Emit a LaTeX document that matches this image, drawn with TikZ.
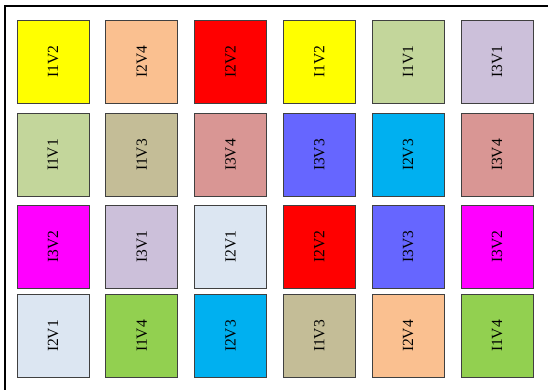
\documentclass[tikz,border=0pt]{standalone}
\usepackage{fontspec}
\setmainfont{Liberation Serif}
\usetikzlibrary{positioning}

\definecolor{tileyellow}{HTML}{FFFF00}
\definecolor{tilepeach}{HTML}{FAC090}
\definecolor{tilered}{HTML}{FF0000}
\definecolor{tilegreenlt}{HTML}{C3D69B}
\definecolor{tilelavender}{HTML}{CCC0DA}
\definecolor{tiletan}{HTML}{C4BD97}
\definecolor{tilerose}{HTML}{D99694}
\definecolor{tileviolet}{HTML}{6666FF}
\definecolor{tilesky}{HTML}{00B0F0}
\definecolor{tilemagenta}{HTML}{FF00FF}
\definecolor{tilebluelt}{HTML}{DCE6F2}
\definecolor{tilegreen}{HTML}{92D050}

\begin{document}
\begin{tikzpicture}[
			x=1pt, y=-1pt,
			% Style for the coloured tiles
			tile/.style={
				rectangle,
				draw=black!75,
				line width=0.8pt,
				rotate=90,
				minimum width=83pt,
				minimum height=72pt,
				inner sep=0pt,
				font=\fontsize{15.5}{18}\selectfont
			},
			% Style for the frame
			frame/.style={
				line width=2pt,
				black
			}
			]
			
			\useasboundingbox (0,0) rectangle (548,390);
			
			% --- FRAME ---
			\draw[frame] (5,390) -- (5,6) -- (548,6);
			
			% --- TILES (row by row) ---
			\foreach \lbl/\col [count=\i from 0] in {
					I1V2/tileyellow, I2V4/tilepeach, I2V2/tilered, I1V2/tileyellow, I1V1/tilegreenlt, I3V1/tilelavender,
					I1V1/tilegreenlt, I1V3/tiletan, I3V4/tilerose, I3V3/tileviolet, I2V3/tilesky, I3V4/tilerose,
					I3V2/tilemagenta, I3V1/tilelavender, I2V1/tilebluelt, I2V2/tilered, I3V3/tileviolet, I3V2/tilemagenta,
					I2V1/tilebluelt, I1V4/tilegreen, I2V3/tilesky, I1V3/tiletan, I2V4/tilepeach, I1V4/tilegreen}
			{
				\pgfmathtruncatemacro{\r}{int(\i/6)}
				\pgfmathtruncatemacro{\c}{mod(\i,6)}
				\pgfmathsetmacro{\ypos}{{61.5,155,246.5,336}[\r]}
				\node[tile, fill=\col] (tile-\r-\c) at (53+88.8*\c, \ypos) {\lbl};
			}
			
		\end{tikzpicture}
\end{document}
